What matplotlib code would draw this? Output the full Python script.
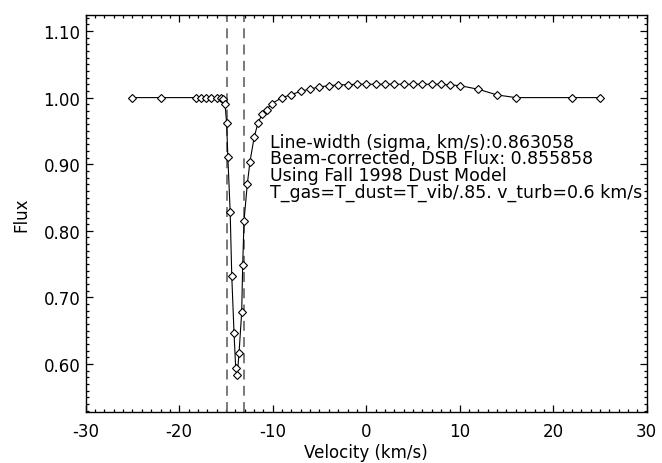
import matplotlib
matplotlib.use("Agg")
import matplotlib.pyplot as plt
from matplotlib.ticker import MultipleLocator

plt.rcParams['font.family'] = ['DejaVu Sans']
plt.rcParams['axes.unicode_minus'] = False

# line profile: velocity (km/s) and normalised flux
velocity = [-25, -22, -18.2, -17.65, -17.1, -16.55, -16.0, -15.55, -15.3, -15.1,
            -14.93, -14.8, -14.55, -14.38, -14.14, -13.96, -13.79, -13.6, -13.32,
            -13.21, -13.07, -12.72, -12.43, -11.98, -11.57, -11.14, -10.64, -10.11,
            -9, -8, -7, -6, -5, -4, -3, -2, -1, 0, 1, 2, 3, 4, 5, 6, 7, 8, 9, 10,
            12, 14, 16, 22, 25]
flux = [1.000, 1.000, 1.000, 1.000, 1.000, 1.000, 1.000, 1.000, 0.998, 0.990,
        0.962, 0.911, 0.828, 0.732, 0.647, 0.594, 0.584, 0.617, 0.678,
        0.749, 0.815, 0.870, 0.904, 0.941, 0.962, 0.975, 0.982, 0.991,
        1.000, 1.0045, 1.0095, 1.013, 1.016, 1.018, 1.019, 1.0195, 1.020, 1.020,
        1.020, 1.020, 1.020, 1.020, 1.020, 1.020, 1.020, 1.020, 1.019, 1.018,
        1.0125, 1.004, 1.000, 1.000, 1.000]

# velocity limits of the fitted line
vlines = [-14.9, -13.08]

info = ["Line-width (sigma, km/s):0.863058",
        "Beam-corrected, DSB Flux: 0.855858",
        "Using Fall 1998 Dust Model",
        "T_gas=T_dust=T_vib/.85. v_turb=0.6 km/s"]

fig = plt.figure(figsize=(6.62, 4.64), dpi=100)
ax = fig.add_axes([0.1295, 0.1099, 0.8474, 0.8556])

ax.plot(velocity, flux, color='black', lw=0.8, marker='D', ms=4.4,
        mfc='white', mec='black', mew=0.8, zorder=3)
for v in vlines:
    ax.axvline(v, color='#6e6e6e', lw=1.3, dashes=(5.5, 3.5), zorder=2)

ax.set_xlim(-30, 30)
ax.set_ylim(0.528, 1.124)
ax.xaxis.set_major_locator(MultipleLocator(10))
ax.xaxis.set_minor_locator(MultipleLocator(1))
ax.yaxis.set_major_locator(MultipleLocator(0.1))
ax.yaxis.set_minor_locator(MultipleLocator(0.01))
ax.yaxis.set_major_formatter(plt.FormatStrFormatter('%.2f'))

ax.tick_params(which='both', direction='in', top=True, right=True, width=0.9)
ax.tick_params(which='major', length=5)
ax.tick_params(which='minor', length=2.5)
ax.tick_params(axis='x', which='major', pad=7.5, labelsize=12)
ax.tick_params(axis='y', which='major', pad=4, labelsize=12)
for s in ax.spines.values():
    s.set_linewidth(1.0)

ax.set_xlabel("Velocity (km/s)", fontsize=12, va='top')
ax.xaxis.set_label_coords(0.5, -0.078)
ax.set_ylabel("Flux", fontsize=12)
ax.yaxis.set_label_coords(-0.099, 0.5)

# fit summary, tightly stacked
ax.text(0.3285, 0.704, "\n".join(info), transform=ax.transAxes,
        fontsize=12.5, va='top', ha='left', linespacing=0.92)

fig.savefig("out.png", dpi=100)
